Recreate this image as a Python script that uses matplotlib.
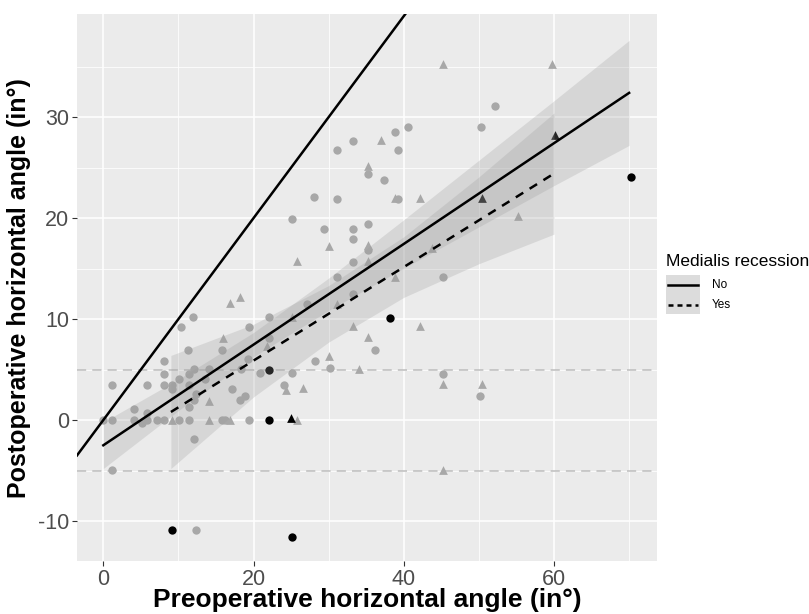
import matplotlib
matplotlib.use('Agg')
import matplotlib.pyplot as plt
from matplotlib.lines import Line2D
from matplotlib.patches import Rectangle
import numpy as np

plt.rcParams['font.family'] = ['Liberation Sans', 'DejaVu Sans']
plt.rcParams['axes.unicode_minus'] = False

# scatter points
grey_circle_x = [0, 1.1, 1.2, 1.2, 4.1, 4.1, 5.1, 5.8, 5.8, 5.8, 7.1, 8.1, 8.1, 8.1, 8.1, 9.2, 9.1,
                 10.1, 10.1, 11.4, 11.4, 11.4, 11.4, 11.3, 12.1, 12.1, 12.1, 12.4, 13.6, 14.1, 15.8,
                 16.2, 17.1, 18.2, 18.9, 19.4, 15.8, 18.3, 19.3, 20.8, 12.4, 10.3, 12.0, 19.4,
                 37.4, 28.1, 31.1, 39.2, 25.1, 29.4, 33.2, 35.2, 33.2, 35.2, 33.2, 31.1, 33.2, 27.1,
                 22.1, 22.1, 36.2, 28.2, 30.2, 25.1, 24.1, 45.2, 45.2, 50.2, 38.8, 40.5, 50.3, 33.2,
                 31.1, 39.2, 35.2, 52.2]
grey_circle_y = [0, 0, 3.5, -4.9, 1.1, 0, -0.3, 0.7, 0, 3.5, 0, 0, 5.8, 4.6, 3.5, 3.5, 3.1,
                 4.1, 0, 0, 1.3, 3.5, 4.6, 6.9, 5.1, -1.9, 2.0, 2.6, 4.1, 5.1, 0,
                 0, 3.1, 2.0, 2.4, 0, 6.9, 5.1, 6.0, 4.7, -10.9, 9.2, 10.2, 9.2,
                 23.8, 22.1, 21.9, 21.9, 19.9, 18.9, 18.9, 19.4, 17.9, 16.8, 15.7, 14.2, 12.5, 11.5,
                 10.2, 8.1, 6.9, 5.8, 5.2, 4.7, 3.5, 14.2, 4.6, 2.4, 28.5, 29.0, 29.0, 27.6,
                 26.7, 26.7, 24.4, 31.1]

grey_tri_x = [9.1, 14.1, 14.1, 16.9, 16.0, 16.8, 38.8, 42.1, 30.1, 35.2, 35.2, 25.8, 18.2, 38.8,
              31.1, 25.1, 21.8, 33.2, 35.2, 42.1, 30.1, 34.1, 24.3, 26.6, 25.8, 43.8, 45.2, 50.4,
              45.2, 37.0, 35.2, 45.2, 59.8, 55.2]
grey_tri_y = [0, 1.9, 0, 0, 8.1, 11.6, 22.0, 22.0, 17.2, 17.3, 15.8, 15.8, 12.2, 14.2,
              11.5, 10.2, 7.3, 9.3, 8.2, 9.3, 6.3, 5.1, 3.0, 3.2, 0, 17.0, 3.6, 3.6,
              -4.9, 27.7, 25.2, 35.3, 35.3, 20.2]

black_circle_x = [9.2, 22.1, 22.1, 25.1, 38.2, 70.2]
black_circle_y = [-10.9, 5.0, 0, -11.6, 10.1, 24.1]
black_tri_x = [25.0, 50.4, 60.1]
black_tri_y = [0.2, 22.0, 28.2]

# fitted lines with confidence bands
no_x = [0, 10, 20, 30, 40, 50, 60, 70]
no_fit = [-2.5, 2.49, 7.47, 12.46, 17.44, 22.43, 27.42, 32.4]
no_lo = [-4.8, 0.94, 6.27, 10.86, 15.04, 19.13, 23.22, 27.2]
no_hi = [-0.2, 4.04, 8.67, 14.06, 19.84, 25.73, 31.62, 37.6]

yes_x = [9, 20, 30, 40, 50, 60]
yes_fit = [0.8, 5.89, 10.52, 15.15, 19.78, 24.41]
yes_lo = [-4.8, 2.29, 7.72, 12.15, 15.48, 18.41]
yes_hi = [6.4, 9.49, 13.32, 18.15, 24.08, 30.41]

ref_lines = [5, -5]

fig = plt.figure(figsize=(8.09, 6.14), dpi=100)
ax = fig.add_axes([0.0952, 0.0863, 0.7168, 0.8907])
ax.set_facecolor('#EBEBEB')
ax.set_xlim(-3.5, 73.7)
ax.set_ylim(-13.96, 40.2)

ax.set_xticks([0, 20, 40, 60])
ax.set_yticks([-10, 0, 10, 20, 30])
ax.set_xticks([10, 30, 50, 70], minor=True)
ax.set_yticks([-5, 5, 15, 25, 35], minor=True)
ax.grid(which='major', color='white', linewidth=1.1)
ax.grid(which='minor', color='white', linewidth=0.55)
ax.set_axisbelow(True)
for s in ax.spines.values():
    s.set_visible(False)
ax.tick_params(which='major', length=3.5, width=0.8, color='#333333',
               labelsize=15.5, labelcolor='#4D4D4D', pad=2)
ax.tick_params(which='minor', length=0)

for yv in ref_lines:
    ax.axhline(yv, color='#BDBDBD', linewidth=1.1, linestyle=(0, (6, 4)), zorder=1)

ms = 36
ax.scatter(grey_circle_x, grey_circle_y, s=ms, marker='o', color='#A8A8A8', linewidths=0, zorder=2)
ax.scatter(grey_tri_x, grey_tri_y, s=ms * 1.1, marker='^', color='#A8A8A8', linewidths=0, zorder=2)
ax.scatter(black_circle_x, black_circle_y, s=ms, marker='o', color='black', linewidths=0, zorder=2)
ax.scatter(black_tri_x, black_tri_y, s=ms * 1.1, marker='^', color='black', linewidths=0, zorder=2)

# identity line
ax.axline((0, 0), slope=1, color='black', linewidth=1.8, zorder=4)

ax.fill_between(no_x, no_lo, no_hi, color='#999999', alpha=0.25, linewidth=0, zorder=3)
ax.fill_between(yes_x, yes_lo, yes_hi, color='#999999', alpha=0.25, linewidth=0, zorder=3)
ax.plot(no_x, no_fit, color='black', linewidth=1.8, zorder=4)
ax.plot(yes_x, yes_fit, color='black', linewidth=1.8, linestyle=(0, (3.5, 3)), zorder=4)

ax.set_xlabel('Preoperative horizontal angle (in°)', fontsize=19, fontweight='bold', labelpad=-1.5)
ax.set_ylabel('Postoperative horizontal angle (in°)', fontsize=18, fontweight='bold', labelpad=5)

# legend
fig.text(666 / 809, 1 - 262 / 614, 'Medialis recession', fontsize=12.5, va='center', ha='left')
labels = ['No', 'Yes']
styles = ['-', (0, (2, 1.6))]
for i, (lab, ls) in enumerate(zip(labels, styles)):
    yc = 1 - (285 + i * 19.5) / 614
    fig.patches.append(Rectangle((666 / 809, yc - 9.75 / 614), 34 / 809, 19.5 / 614,
                                 transform=fig.transFigure, facecolor='#DCDCDC',
                                 edgecolor='none'))
    fig.lines.append(Line2D([668 / 809, 698 / 809], [yc, yc], transform=fig.transFigure,
                            color='black', linewidth=1.8, linestyle=ls))
    fig.text(712 / 809, yc, lab, fontsize=8.5, va='center', ha='left')

fig.savefig('out.png', dpi=100)
